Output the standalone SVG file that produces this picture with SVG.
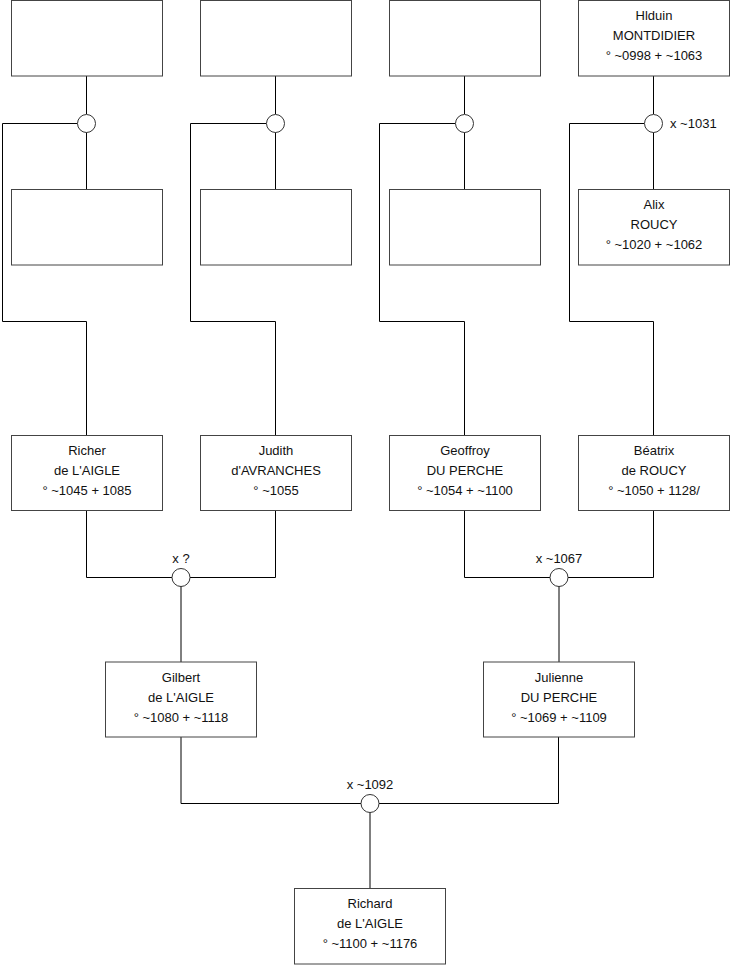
<svg xmlns="http://www.w3.org/2000/svg" width="740" height="975" viewBox="0 0 740 975">
<style>
.box{fill:#fff;stroke:#444;stroke-width:1}
.ln{fill:none;stroke:#000;stroke-width:1}
.ring{fill:#fff;stroke:#333;stroke-width:1}
text{font-family:"Liberation Sans",Arial,sans-serif;font-size:13px;fill:#111;text-anchor:middle}
.lbl{font-size:13px}
</style>
<rect width="740" height="975" fill="#fff"/>
<g id="connectors">
<path class="ln" d="M86.5 76V114M86.5 132V189M77.5 123.5H2.5V321.5H86.5V435"/>
<path class="ln" d="M275.5 76V114M275.5 132V189M266.5 123.5H190.5V321.5H275.5V435"/>
<path class="ln" d="M464.5 76V114M464.5 132V189M455.5 123.5H379.5V321.5H464.5V435"/>
<path class="ln" d="M653.5 76V114M653.5 132V189M644.5 123.5H569.5V321.5H653.5V435"/>
<path class="ln" d="M86.5 510V577.5H172M190 577.5H275.5V510M181 586V662"/>
<path class="ln" d="M464.5 510V577.5H550M568 577.5H653.5V510M559 586V662"/>
<path class="ln" d="M181 737V803.5H361M379 803.5H558.5V737M370 812V888"/>
<circle class="ring" cx="86.5" cy="123.5" r="9"/>
<circle class="ring" cx="275.5" cy="123.5" r="9"/>
<circle class="ring" cx="464.5" cy="123.5" r="9"/>
<circle class="ring" cx="653.5" cy="123.5" r="9"/>
<text class="lbl" x="670" y="128" text-anchor="start" style="text-anchor:start">x ~1031</text>
<circle class="ring" cx="181" cy="577.5" r="9"/>
<text class="lbl" x="181" y="563">x ?</text>
<circle class="ring" cx="559" cy="577.5" r="9"/>
<text class="lbl" x="559" y="563">x ~1067</text>
<circle class="ring" cx="370" cy="803.5" r="9"/>
<text class="lbl" x="370" y="789">x ~1092</text>
</g>
<g id="n1"><rect class="box" x="11.5" y="0.5" width="151" height="75.5"/></g>
<g id="n2"><rect class="box" x="200.5" y="0.5" width="151" height="75.5"/></g>
<g id="n3"><rect class="box" x="389.5" y="0.5" width="151" height="75.5"/></g>
<g id="n4"><rect class="box" x="578.5" y="0.5" width="151" height="75.5"/>
<text x="654" y="20">Hlduin</text><text x="654" y="40">MONTDIDIER</text><text x="654" y="60">° ~0998 + ~1063</text></g>
<g id="n5"><rect class="box" x="11.5" y="189.5" width="151" height="75.5"/></g>
<g id="n6"><rect class="box" x="200.5" y="189.5" width="151" height="75.5"/></g>
<g id="n7"><rect class="box" x="389.5" y="189.5" width="151" height="75.5"/></g>
<g id="n8"><rect class="box" x="578.5" y="189.5" width="151" height="75.5"/>
<text x="654" y="209">Alix</text><text x="654" y="229">ROUCY</text><text x="654" y="249">° ~1020 + ~1062</text></g>
<g id="n9"><rect class="box" x="11.5" y="435.5" width="151" height="75"/>
<text x="87" y="455">Richer</text><text x="87" y="475">de L'AIGLE</text><text x="87" y="495">° ~1045 + 1085</text></g>
<g id="n10"><rect class="box" x="200.5" y="435.5" width="151" height="75"/>
<text x="276" y="455">Judith</text><text x="276" y="475">d'AVRANCHES</text><text x="276" y="495">° ~1055</text></g>
<g id="n11"><rect class="box" x="389.5" y="435.5" width="151" height="75"/>
<text x="465" y="455">Geoffroy</text><text x="465" y="475">DU PERCHE</text><text x="465" y="495">° ~1054 + ~1100</text></g>
<g id="n12"><rect class="box" x="578.5" y="435.5" width="151" height="75"/>
<text x="654" y="455">Béatrix</text><text x="654" y="475">de ROUCY</text><text x="654" y="495">° ~1050 + 1128/</text></g>
<g id="n13"><rect class="box" x="105.5" y="662" width="151" height="75"/>
<text x="181" y="682">Gilbert</text><text x="181" y="702">de L'AIGLE</text><text x="181" y="722">° ~1080 + ~1118</text></g>
<g id="n14"><rect class="box" x="483.5" y="662" width="151" height="75"/>
<text x="559" y="682">Julienne</text><text x="559" y="702">DU PERCHE</text><text x="559" y="722">° ~1069 + ~1109</text></g>
<g id="n15"><rect class="box" x="294.5" y="888.5" width="151" height="75.5"/>
<text x="370" y="908">Richard</text><text x="370" y="928">de L'AIGLE</text><text x="370" y="948">° ~1100 + ~1176</text></g>
</svg>
